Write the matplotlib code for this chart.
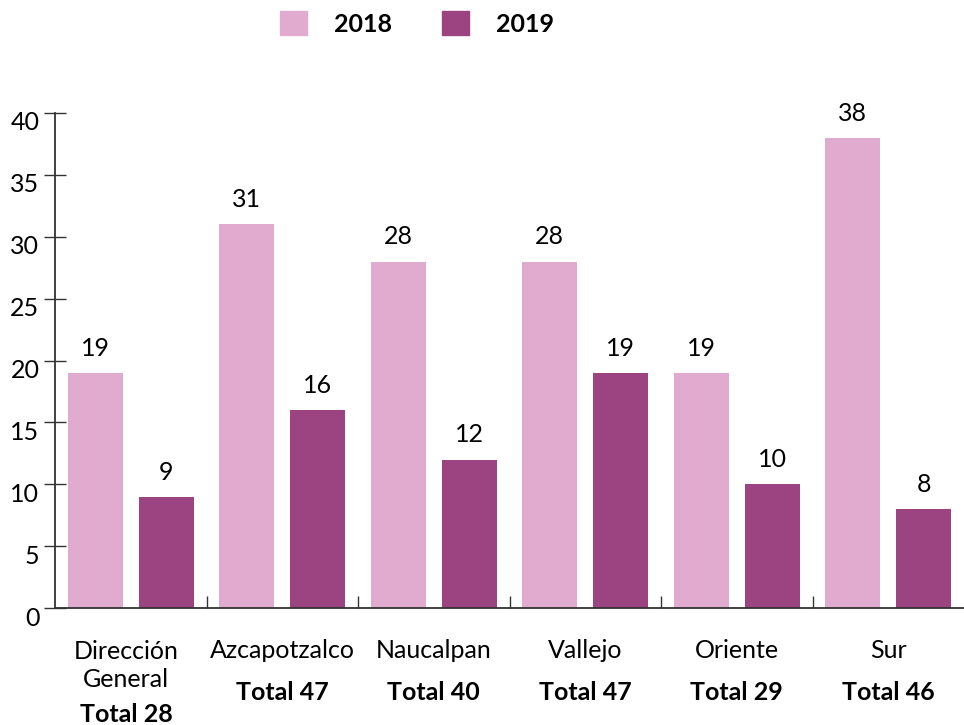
import matplotlib
matplotlib.use("Agg")
import matplotlib.pyplot as plt
from matplotlib.patches import Patch
from matplotlib.transforms import ScaledTranslation
import numpy as np

categories = ["Dirección\nGeneral", "Azcapotzalco", "Naucalpan", "Vallejo", "Oriente", "Sur"]
totals = ["Total 28", "Total 47", "Total 40", "Total 47", "Total 29", "Total 46"]
v2018 = [19, 31, 28, 28, 19, 38]
v2019 = [9, 16, 12, 19, 10, 8]
yticks = [0, 5, 10, 15, 20, 25, 30, 35, 40]

c2018 = "#E1ABCF"
c2019 = "#9C4382"
axis_col = "#333333"

plt.rcParams['font.family'] = ['Lato', 'DejaVu Sans']

fig = plt.figure(figsize=(9.64, 7.25), dpi=100)
ax = fig.add_axes([55/964, 1 - 608/725, 1 - 55/964, (608 - 113)/725])

x = np.arange(len(categories))
w = 0.363
off = 0.234
b1 = ax.bar(x - off, v2018, w, color=c2018, zorder=2)
b2 = ax.bar(x + off, v2019, w, color=c2019, zorder=2)

for bars, vals in ((b1, v2018), (b2, v2019)):
    for r, v in zip(bars, vals):
        ax.annotate(str(v), xy=(r.get_x() + r.get_width()/2, v), xytext=(0, 17),
                    textcoords='offset pixels', ha='center', va='baseline',
                    fontsize=18, color='black')

ax.set_xlim(-0.5, len(categories) - 0.5)
ax.set_ylim(0, 40)

for s in ['top', 'right']:
    ax.spines[s].set_visible(False)
for s in ['left', 'bottom']:
    ax.spines[s].set_color(axis_col)
    ax.spines[s].set_linewidth(1.3)

ax.set_yticks(yticks)
ax.set_yticklabels([str(t) for t in yticks], fontsize=18)
ax.tick_params(axis='y', direction='inout', length=16.5, width=1.0, color=axis_col, pad=3)
for lab in ax.get_yticklabels():
    lab.set_transform(lab.get_transform() + ScaledTranslation(0, -8/100, fig.dpi_scale_trans))

ax.set_xticks([])
ax.set_xticks(np.arange(0.5, len(categories) - 0.5, 1.0), minor=True)
ax.tick_params(axis='x', which='minor', direction='in', length=8.5, width=1.0, color=axis_col, labelbottom=False)

for i, (name, tot) in enumerate(zip(categories, totals)):
    xi = i - 0.03 if i == 0 else i
    two = "\n" in name
    ax.annotate(name, xy=(xi, 0), xycoords=('data', 'axes fraction'),
                xytext=(0, -79 if two else -50), textcoords='offset pixels', ha='center', va='baseline',
                fontsize=18, linespacing=1.25, multialignment='center')
    ax.annotate(tot, xy=(xi, 0), xycoords=('data', 'axes fraction'),
                xytext=(0, -114 if two else -92), textcoords='offset pixels', ha='center', va='baseline',
                fontsize=18, fontweight='bold')

handles = [Patch(color=c2018, label='2018'), Patch(color=c2019, label='2019')]
fig.legend(handles=handles, loc='center', bbox_to_anchor=(417/964, 1 - 23.5/725), ncol=2,
           frameon=False, prop={'weight': 'bold', 'size': 18},
           handlelength=1.08, handleheight=1.08, handletextpad=1.08, columnspacing=2.0,
           borderpad=0, borderaxespad=0)

fig.savefig("out.png", dpi=100)
